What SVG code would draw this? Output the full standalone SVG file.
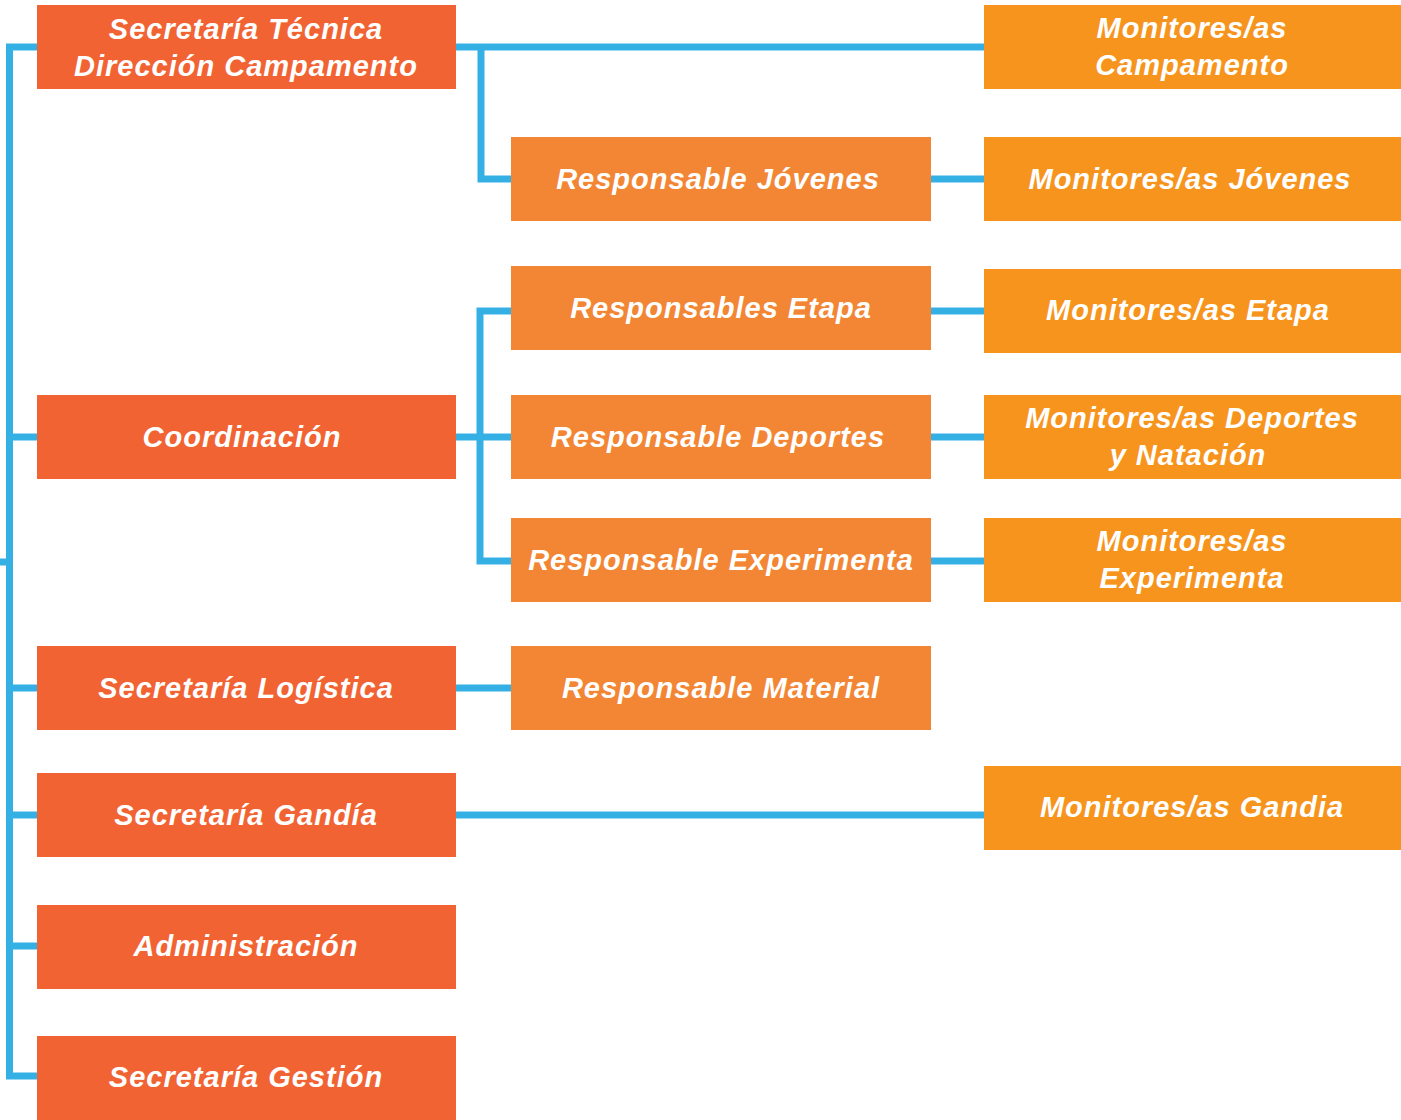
<svg xmlns="http://www.w3.org/2000/svg" width="1401" height="1120" viewBox="0 0 1401 1120">
<style>
.l1{fill:#F26334}
.l2{fill:#F38634}
.l3{fill:#F7941D}
text{font-family:"Liberation Sans",Arial,sans-serif;font-weight:bold;font-style:italic;font-size:29px;letter-spacing:1px;fill:#FFFFFF;text-anchor:middle}
.c{fill:none;stroke:#35B0E5;stroke-width:7}
</style>
<rect width="1401" height="1120" fill="#FFFFFF"/>
<g id="connectors">
<path class="c" d="M37,47 H9.5 V1076 H37"/>
<path class="c" d="M0,562 H9.5"/>
<path class="c" d="M9.5,437 H37 M9.5,688 H37 M9.5,815 H37 M9.5,946 H37"/>
<path class="c" d="M456,47 H984"/>
<path class="c" d="M481,47 V179 H511"/>
<path class="c" d="M456,437 H511"/>
<path class="c" d="M511,311 H480 V561 H511"/>
<path class="c" d="M931,179 H984 M931,311 H984 M931,437 H984 M931,561 H984"/>
<path class="c" d="M456,688 H511"/>
<path class="c" d="M456,815 H984"/>
</g>
<g id="n1"><rect class="l1" x="37" y="5" width="419" height="84"/><text x="246" y="39">Secretaría Técnica</text><text x="246" y="76">Dirección Campamento</text></g>
<g id="n2"><rect class="l1" x="37" y="395" width="419" height="84"/><text x="242" y="447">Coordinación</text></g>
<g id="n3"><rect class="l1" x="37" y="646" width="419" height="84"/><text x="246" y="698">Secretaría Logística</text></g>
<g id="n4"><rect class="l1" x="37" y="773" width="419" height="84"/><text x="246" y="825">Secretaría Gandía</text></g>
<g id="n5"><rect class="l1" x="37" y="905" width="419" height="84"/><text x="246" y="956">Administración</text></g>
<g id="n6"><rect class="l1" x="37" y="1036" width="419" height="84"/><text x="246" y="1087">Secretaría Gestión</text></g>
<g id="m1"><rect class="l2" x="511" y="137" width="420" height="84"/><text x="718" y="189">Responsable Jóvenes</text></g>
<g id="m2"><rect class="l2" x="511" y="266" width="420" height="84"/><text x="721" y="318">Responsables Etapa</text></g>
<g id="m3"><rect class="l2" x="511" y="395" width="420" height="84"/><text x="718" y="447">Responsable Deportes</text></g>
<g id="m4"><rect class="l2" x="511" y="518" width="420" height="84"/><text x="721" y="570">Responsable Experimenta</text></g>
<g id="m5"><rect class="l2" x="511" y="646" width="420" height="84"/><text x="721" y="698">Responsable Material</text></g>
<g id="r1"><rect class="l3" x="984" y="5" width="417" height="84"/><text x="1192" y="38">Monitores/as</text><text x="1192" y="75">Campamento</text></g>
<g id="r2"><rect class="l3" x="984" y="137" width="417" height="84"/><text x="1190" y="189">Monitores/as Jóvenes</text></g>
<g id="r3"><rect class="l3" x="984" y="269" width="417" height="84"/><text x="1188" y="320">Monitores/as Etapa</text></g>
<g id="r4"><rect class="l3" x="984" y="395" width="417" height="84"/><text x="1192" y="428">Monitores/as Deportes</text><text x="1188" y="465">y Natación</text></g>
<g id="r5"><rect class="l3" x="984" y="518" width="417" height="84"/><text x="1192" y="551">Monitores/as</text><text x="1192" y="588">Experimenta</text></g>
<g id="r6"><rect class="l3" x="984" y="766" width="417" height="84"/><text x="1192" y="817">Monitores/as Gandia</text></g>
</svg>
